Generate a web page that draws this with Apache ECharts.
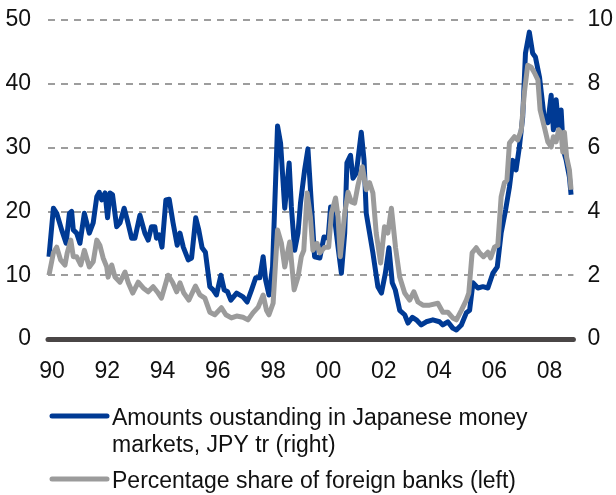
<!DOCTYPE html>
<html>
<head>
<meta charset="utf-8">
<script src="https://cdn.jsdelivr.net/npm/echarts@6/dist/echarts.min.js"></script>
<style>
  html, body { margin: 0; padding: 0; background: #fff; }
  #chart { width: 616px; height: 495px; }
</style>
</head>
<body>
<div id="chart"></div>
<script>
// x tick labels (years shown as two digits)
var yearTicks = [1990, 1992, 1994, 1996, 1998, 2000, 2002, 2004, 2006, 2008];

// Amounts outstanding in Japanese money markets, JPY tr (right axis)
var amountYears = [
  1989.89, 1990.05, 1990.17, 1990.35, 1990.51, 1990.63, 1990.71, 1990.77, 1990.89, 1991.01,
  1991.17, 1991.35, 1991.49, 1991.62, 1991.71, 1991.80, 1991.92, 1992.01, 1992.10, 1992.19,
  1992.34, 1992.46, 1992.61, 1992.72, 1992.88, 1993.00, 1993.18, 1993.36, 1993.48, 1993.60,
  1993.72, 1993.78, 1993.88, 1993.98, 1994.12, 1994.24, 1994.38, 1994.53, 1994.63, 1994.75,
  1994.93, 1995.05, 1995.20, 1995.31, 1995.43, 1995.55, 1995.71, 1995.83, 1995.95, 1996.11,
  1996.23, 1996.35, 1996.47, 1996.68, 1996.91, 1997.06, 1997.22, 1997.37, 1997.52, 1997.64,
  1997.73, 1997.85, 1997.98, 1998.16, 1998.27, 1998.42, 1998.58, 1998.66, 1998.78, 1998.90,
  1998.99, 1999.14, 1999.26, 1999.39, 1999.50, 1999.69, 1999.84, 1999.99, 2000.08, 2000.23,
  2000.35, 2000.47, 2000.59, 2000.67, 2000.80, 2000.89, 2001.01, 2001.19, 2001.29, 2001.37,
  2001.49, 2001.61, 2001.79, 2001.92, 2002.06, 2002.19, 2002.31, 2002.42, 2002.58, 2002.76,
  2002.88, 2003.04, 2003.18, 2003.36, 2003.54, 2003.78, 2004.02, 2004.14, 2004.32, 2004.50,
  2004.63, 2004.81, 2004.99, 2005.11, 2005.23, 2005.41, 2005.59, 2005.77, 2005.95, 2006.11,
  2006.25, 2006.41, 2006.55, 2006.67, 2006.79, 2006.91, 2007.03, 2007.13, 2007.27, 2007.39,
  2007.49, 2007.64, 2007.82, 2007.94, 2008.06, 2008.14, 2008.24, 2008.33, 2008.42, 2008.50,
  2008.60, 2008.72, 2008.78
];
var amountValues = [
  2.58, 4.10, 3.94, 3.42, 3.00, 3.94, 4.00, 3.42, 3.32, 3.00,
  3.94, 3.32, 3.64, 4.46, 4.60, 4.36, 4.58, 3.80, 4.58, 4.52,
  3.52, 3.64, 4.10, 3.74, 3.16, 3.16, 3.88, 3.32, 3.10, 3.52,
  3.52, 3.16, 3.26, 2.88, 4.36, 4.38, 3.64, 2.94, 3.32, 2.88,
  2.48, 2.54, 3.80, 3.42, 2.86, 2.72, 1.64, 1.54, 1.38, 2.00,
  1.54, 1.48, 1.22, 1.44, 1.32, 1.16, 1.54, 1.92, 1.92, 2.58,
  1.84, 1.38, 2.26, 6.68, 6.14, 4.10, 5.52, 4.14, 2.78, 3.32,
  4.26, 5.30, 5.96, 4.14, 2.58, 2.54, 3.20, 3.16, 4.14, 3.74,
  2.88, 2.06, 3.32, 5.52, 5.76, 5.04, 5.20, 6.48, 5.60, 3.94,
  3.32, 2.70, 1.64, 1.44, 2.06, 2.86, 1.76, 1.54, 0.90, 0.76,
  0.50, 0.68, 0.60, 0.44, 0.54, 0.60, 0.54, 0.44, 0.54, 0.34,
  0.28, 0.44, 0.82, 0.90, 1.76, 1.60, 1.64, 1.60, 2.06, 2.26,
  3.32, 4.04, 4.76, 5.60, 5.30, 6.02, 6.96, 8.96, 9.62, 8.96,
  8.84, 8.20, 6.86, 6.78, 7.64, 6.56, 7.50, 6.64, 7.18, 5.92,
  5.62, 5.08, 4.52
];

// Percentage share of foreign banks (left axis)
var shareYears = [
  1989.89, 1990.05, 1990.17, 1990.31, 1990.47, 1990.55, 1990.68, 1990.77, 1990.89, 1991.04,
  1991.17, 1991.35, 1991.49, 1991.62, 1991.73, 1991.85, 1991.98, 1992.03, 1992.16, 1992.28,
  1992.46, 1992.64, 1992.76, 1992.92, 1993.12, 1993.30, 1993.48, 1993.66, 1993.84, 1993.96,
  1994.20, 1994.36, 1994.51, 1994.63, 1994.77, 1994.95, 1995.19, 1995.35, 1995.53, 1995.71,
  1995.89, 1996.13, 1996.29, 1996.49, 1996.68, 1996.91, 1997.09, 1997.27, 1997.46, 1997.64,
  1997.76, 1997.85, 1998.00, 1998.16, 1998.30, 1998.42, 1998.60, 1998.76, 1998.90, 1999.02,
  1999.11, 1999.23, 1999.35, 1999.44, 1999.59, 1999.69, 1999.87, 2000.01, 2000.11, 2000.26,
  2000.35, 2000.43, 2000.59, 2000.71, 2000.83, 2000.95, 2001.07, 2001.23, 2001.37, 2001.49,
  2001.61, 2001.73, 2001.89, 2002.03, 2002.15, 2002.28, 2002.43, 2002.58, 2002.76, 2002.94,
  2003.09, 2003.24, 2003.42, 2003.66, 2003.96, 2004.14, 2004.32, 2004.50, 2004.63, 2004.81,
  2004.99, 2005.08, 2005.20, 2005.35, 2005.47, 2005.61, 2005.77, 2005.87, 2006.01, 2006.13,
  2006.25, 2006.37, 2006.46, 2006.55, 2006.73, 2006.85, 2006.98, 2007.09, 2007.21, 2007.34,
  2007.46, 2007.58, 2007.66, 2007.82, 2007.94, 2008.06, 2008.14, 2008.24, 2008.33, 2008.42,
  2008.48, 2008.54, 2008.62, 2008.72, 2008.78
];
var shareValues = [
  10.0, 13.5, 14.4, 12.4, 11.6, 13.5, 15.5, 12.9, 12.9, 11.6,
  13.9, 11.3, 12.1, 15.5, 14.7, 12.7, 11.3, 9.7, 11.6, 9.7,
  8.9, 10.5, 8.8, 7.2, 8.9, 8.0, 7.4, 8.2, 7.2, 6.4,
  10.0, 8.9, 7.4, 8.8, 7.2, 6.1, 8.3, 6.9, 6.4, 4.2,
  3.8, 4.9, 3.8, 3.3, 3.6, 3.4, 3.0, 4.1, 5.0, 6.9,
  4.5, 3.8, 5.6, 17.1, 15.0, 11.3, 15.2, 7.7, 9.7, 12.9,
  13.9, 22.9, 19.1, 13.9, 15.0, 13.5, 14.4, 14.4, 19.7, 22.1,
  19.1, 12.9, 19.7, 23.0, 21.5, 21.3, 24.1, 27.0, 23.4, 24.5,
  22.9, 16.6, 11.9, 17.6, 16.6, 20.5, 14.3, 9.7, 7.2, 6.1,
  7.4, 5.8, 5.3, 5.3, 5.6, 4.2, 4.2, 3.3, 3.0, 4.5,
  6.1, 7.2, 13.5, 14.3, 13.5, 12.9, 13.6, 12.7, 14.4, 14.7,
  22.3, 24.5, 24.9, 30.7, 31.7, 31.2, 32.8, 38.6, 42.9, 42.6,
  41.7, 40.6, 35.9, 33.1, 30.9, 30.1, 31.7, 30.9, 32.8, 32.3,
  29.3, 32.4, 28.5, 26.5, 23.4
];

var amountName = 'Amounts oustanding in Japanese money markets, JPY tr (right)';
var shareName = 'Percentage share of foreign banks (left)';

function zip(xs, ys) {
  var out = [];
  for (var i = 0; i < xs.length; i++) out.push([xs[i], ys[i]]);
  return out;
}

var myChart = echarts.init(document.getElementById('chart'));
var font = '"Liberation Sans", Arial, Helvetica, sans-serif';
var blue = '#003a94';
var grey = '#9b9b9b';

var option = {
  animation: false,
  textStyle: { fontFamily: font },
  grid: { left: 48, right: 42, top: 20, bottom: 156 },
  xAxis: {
    type: 'value',
    min: 1989.855,
    max: 2008.865,
    axisLine: { show: true, onZero: true, lineStyle: { color: '#4a4646', width: 5, cap: 'round' } },
    axisTick: { show: false },
    splitLine: { show: false },
    axisLabel: {
      customValues: yearTicks,
      fontSize: 23,
      color: '#111',
      margin: 21,
      formatter: function (v) { return String(Math.round(v) % 100).padStart(2, '0'); }
    }
  },
  yAxis: [
    {
      type: 'value', min: 0, max: 50, interval: 10,
      axisLine: { show: false }, axisTick: { show: false },
      axisLabel: { fontSize: 23, color: '#111', margin: 17 },
      splitLine: { show: true, lineStyle: { color: '#7d7d7d', width: 1.5, type: [7, 6] } }
    },
    {
      type: 'value', min: 0, max: 10, interval: 2,
      axisLine: { show: false }, axisTick: { show: false },
      axisLabel: { fontSize: 23, color: '#111', margin: 14 },
      splitLine: { show: false }
    }
  ],
  series: [
    {
      name: amountName,
      type: 'line',
      yAxisIndex: 1,
      data: zip(amountYears, amountValues),
      showSymbol: false,
      lineStyle: { color: blue, width: 5, join: 'round' },
      itemStyle: { color: blue },
      z: 2
    },
    {
      name: shareName,
      type: 'line',
      yAxisIndex: 0,
      data: zip(shareYears, shareValues),
      showSymbol: false,
      lineStyle: { color: grey, width: 5, join: 'round' },
      itemStyle: { color: grey },
      z: 3
    }
  ],
  // legend drawn by hand: first entry wraps over two lines
  graphic: [
    { type: 'line', shape: { x1: 52, y1: 416, x2: 107, y2: 416 },
      style: { stroke: blue, lineWidth: 5, lineCap: 'round' } },
    { type: 'text', left: 112, top: 405,
      style: { text: 'Amounts oustanding in Japanese money\nmarkets, JPY tr (right)',
               font: '23px ' + font, fill: '#111', lineHeight: 27 } },
    { type: 'line', shape: { x1: 52, y1: 479, x2: 107, y2: 479 },
      style: { stroke: grey, lineWidth: 5, lineCap: 'round' } },
    { type: 'text', left: 112, top: 468,
      style: { text: 'Percentage share of foreign banks (left)',
               font: '23px ' + font, fill: '#111', lineHeight: 27 } }
  ]
};

myChart.setOption(option);
</script>
</body>
</html>
